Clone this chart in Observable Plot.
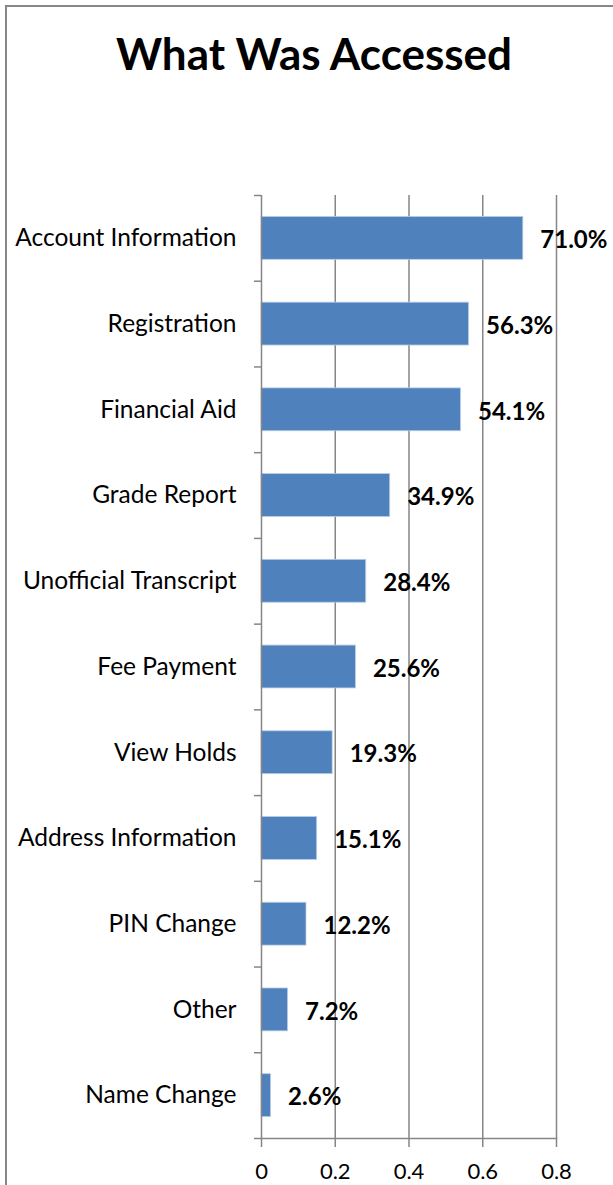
<!DOCTYPE html>
<html>
<head>
<meta charset="utf-8">
<script src="https://cdn.jsdelivr.net/npm/d3@7"></script>
<script src="https://cdn.jsdelivr.net/npm/@observablehq/plot@0.6"></script>
<style>
  html, body { margin: 0; padding: 0; background: #fff; }
  #wrap { position: relative; width: 613px; height: 1185px; overflow: hidden; font-family: Lato, "Open Sans", sans-serif; }
  #frame { position: absolute; left: 5px; top: 5px; right: -10px; bottom: -10px; border-left: 2px solid #878787; border-top: 2px solid #878787; }
  #title { position: absolute; left: 0; top: 27px; width: 628px; text-align: center; font-size: 44px; font-weight: bold; color: #000; line-height: 52px; }
  #chart { position: absolute; left: 0; top: 0; }
</style>
</head>
<body>
<div id="wrap">
  <div id="frame"></div>
  <div id="chart"></div>
  <div id="title">What Was Accessed</div>
</div>
<script>
const categories = [
  "Account Information", "Registration", "Financial Aid", "Grade Report",
  "Unofficial Transcript", "Fee Payment", "View Holds", "Address Information",
  "PIN Change", "Other", "Name Change"
];
const values = [0.710, 0.563, 0.541, 0.349, 0.284, 0.256, 0.193, 0.151, 0.122, 0.072, 0.026];
const xTicks = [0, 0.2, 0.4, 0.6, 0.8];

const data = categories.map((c, i) => ({category: c, value: values[i]}));

const width = 613, height = 1185;
const marginTop = 195, marginBottom = 47, marginLeft = 261, marginRight = 57;
const step = (height - marginTop - marginBottom) / categories.length;

const chart = Plot.plot({
  width, height, marginTop, marginBottom, marginLeft, marginRight,
  style: {fontFamily: "Lato, 'Open Sans', sans-serif", color: "#000", background: "transparent", overflow: "visible"},
  x: {domain: [0, 0.8], ticks: xTicks, tickFormat: d3.format("")},
  y: {domain: categories, paddingInner: 0.5, paddingOuter: 0.25, round: false},
  marks: [
    Plot.gridX(xTicks.filter(d => d > 0), {stroke: "#868686", strokeOpacity: 1, strokeWidth: 1.5}),
    Plot.barX(data, {x: "value", y: "category", fill: "#4F81BD", stroke: "#b9cde5", strokeWidth: 0.8}),
    Plot.ruleX([0], {stroke: "#868686", strokeWidth: 1.5}),
    Plot.frame({anchor: "bottom", stroke: "#868686", strokeWidth: 1.5}),
    Plot.ruleY(categories, {y: d => d, x1: -0.019, x2: 0, dy: -step / 2, stroke: "#868686", strokeWidth: 1.5}),
    Plot.ruleY([categories[categories.length - 1]], {y: d => d, x1: -0.019, x2: 0, dy: step / 2, stroke: "#868686", strokeWidth: 1.5}),
    Plot.axisX({ticks: xTicks, tickFormat: d3.format(""), tickSize: 9, tickPadding: 16, fontSize: 22, stroke: "#868686", strokeWidth: 1.5, label: null, color: "#000"}),
    Plot.axisY({tickSize: 0, tickPadding: 25, fontSize: 24.5, label: null}),
    Plot.text(data, {x: "value", y: "category", text: d => (d.value * 100).toFixed(1) + "%", textAnchor: "start", dx: 17, dy: 2, fontSize: 24, fontWeight: "bold", fill: "#000"})
  ]
});
document.getElementById("chart").appendChild(chart);
</script>
</body>
</html>
